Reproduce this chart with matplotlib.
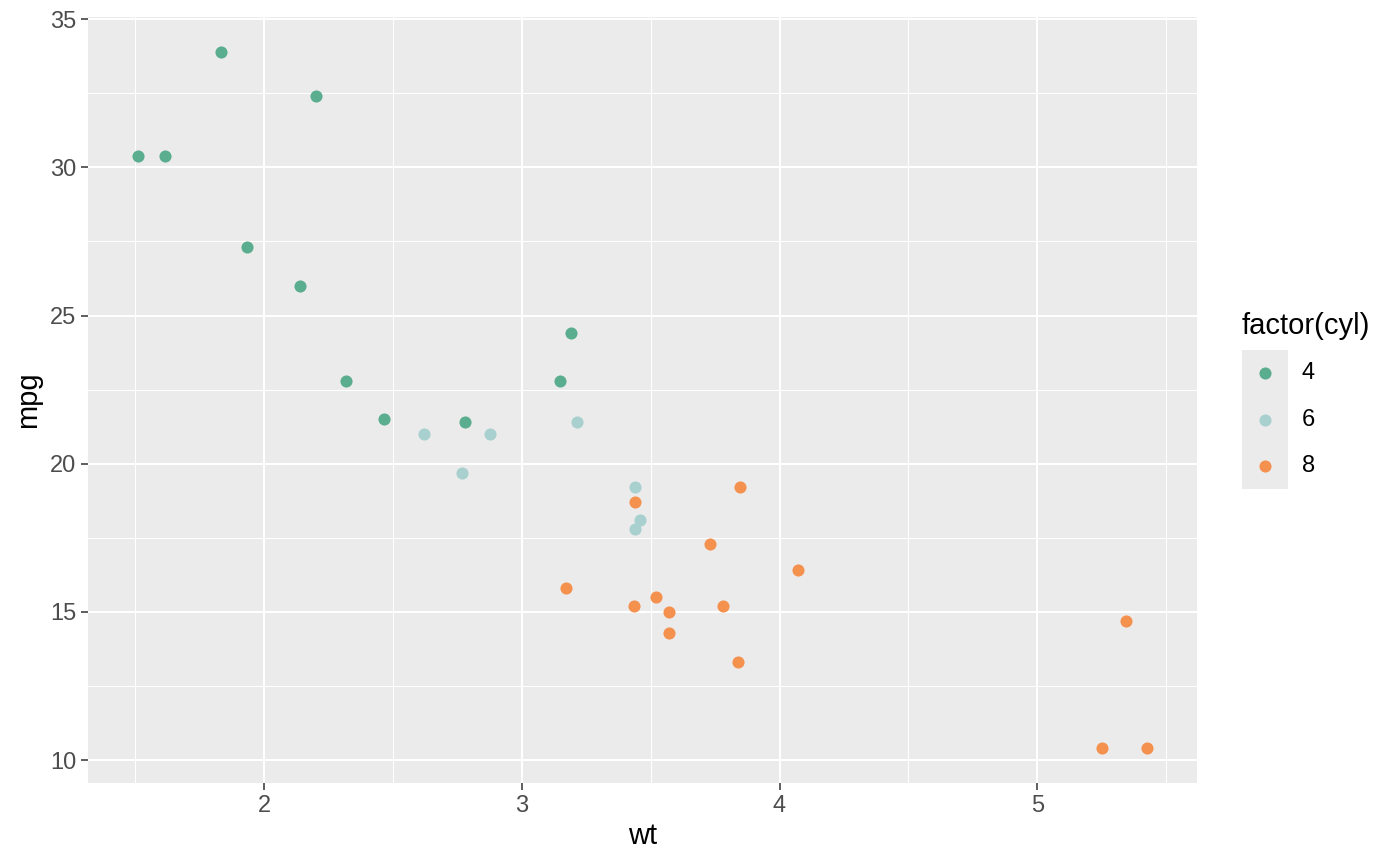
import matplotlib
matplotlib.use("Agg")
import matplotlib.pyplot as plt
from matplotlib.lines import Line2D

wt = [2.620, 2.875, 2.320, 3.215, 3.440, 3.460, 3.570, 3.190, 3.150, 3.440, 3.440,
      4.070, 3.730, 3.780, 5.250, 5.424, 5.345, 2.200, 1.615, 1.835, 2.465, 3.520,
      3.435, 3.840, 3.845, 1.935, 2.140, 1.513, 3.170, 2.770, 3.570, 2.780]
mpg = [21.0, 21.0, 22.8, 21.4, 18.7, 18.1, 14.3, 24.4, 22.8, 19.2, 17.8,
       16.4, 17.3, 15.2, 10.4, 10.4, 14.7, 32.4, 30.4, 33.9, 21.5, 15.5,
       15.2, 13.3, 19.2, 27.3, 26.0, 30.4, 15.8, 19.7, 15.0, 21.4]
cyl = [6, 6, 4, 6, 8, 6, 8, 4, 4, 6, 6,
       8, 8, 8, 8, 8, 8, 4, 4, 4, 4, 8,
       8, 8, 8, 4, 4, 4, 8, 6, 8, 4]
levels = [4, 6, 8]
palette = {4: "#5BAD8F", 6: "#A7D0CE", 8: "#F4914F"}

plt.rcParams['font.family'] = ['Liberation Sans', 'DejaVu Sans']

W, H = 1400, 866
fig = plt.figure(figsize=(W / 100, H / 100), dpi=100)
L, R, T, B = 88, 1197, 17, 783
ax = fig.add_axes([L / W, 1 - B / H, (R - L) / W, (B - T) / H])
ax.set_facecolor("#EBEBEB")
for s in ax.spines.values():
    s.set_visible(False)

xmin, xmax = min(wt), max(wt)
ymin, ymax = min(mpg), max(mpg)
dx, dy = (xmax - xmin) * 0.05, (ymax - ymin) * 0.05
ax.set_xlim(xmin - dx, xmax + dx)
ax.set_ylim(ymin - dy, ymax + dy)

xt = [2, 3, 4, 5]
yt = [10, 15, 20, 25, 30, 35]
ax.set_xticks(xt)
ax.set_yticks(yt)
ax.set_xticks([1.5, 2.5, 3.5, 4.5, 5.5], minor=True)
ax.set_yticks([12.5, 17.5, 22.5, 27.5, 32.5], minor=True)
ax.grid(which="major", color="white", linewidth=1.45)
ax.grid(which="minor", color="white", linewidth=0.72)
ax.set_axisbelow(True)
ax.tick_params(which="major", length=5, width=1.1, color="#333333",
               labelsize=17, labelcolor="#4D4D4D", pad=3.5)
ax.tick_params(which="minor", length=0)

for lv in levels:
    xs = [w for w, c in zip(wt, cyl) if c == lv]
    ys = [m for m, c in zip(mpg, cyl) if c == lv]
    ax.scatter(xs, ys, s=76, color=palette[lv], linewidths=0, zorder=3)

ax.set_xlabel("wt", fontsize=21, color="black", labelpad=4)
ax.set_ylabel("mpg", fontsize=21, color="black", labelpad=6)

# legend
fig.text(1242 / W, 1 - 326 / H, "factor(cyl)", fontsize=21, va="center", ha="left")
lx0, lx1, ly0, ly1 = 1242, 1288, 350, 489
fig.patches.append(plt.Rectangle((lx0 / W, 1 - ly1 / H), (lx1 - lx0) / W, (ly1 - ly0) / H,
                                 transform=fig.transFigure, facecolor="#EBEBEB",
                                 edgecolor="none"))
for i, lv in enumerate(levels):
    yc = 373 + i * 46.5
    fig.add_artist(Line2D([(lx0 + lx1) / 2 / W], [1 - yc / H], marker="o",
                          markersize=8.7, color=palette[lv], markeredgewidth=0,
                          linestyle="none", transform=fig.transFigure))
    fig.text(1302 / W, 1 - yc / H, str(lv), fontsize=17, va="center", ha="left")

fig.savefig("out.png", dpi=100)
